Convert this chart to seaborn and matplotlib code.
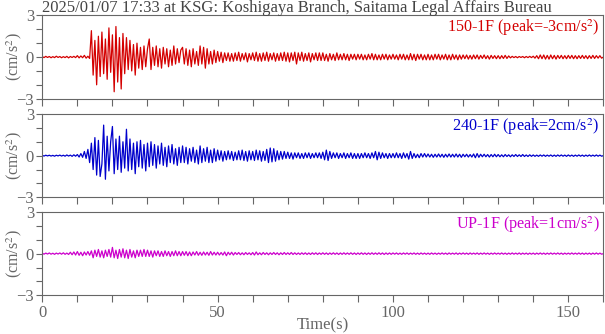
import numpy as np
import pandas as pd
import matplotlib
matplotlib.use("Agg")
import matplotlib.pyplot as plt
import seaborn as sns
from matplotlib.ticker import MultipleLocator, FixedLocator

# ---------------- data (acceleration, cm/s^2, sampled every 0.5 s from 0 to 160 s) ----------------
title_text = "2025/01/07 17:33 at KSG: Koshigaya Branch, Saitama Legal Affairs Bureau"
channel_labels = ["150-1F (peak=-3cm/s$^2$)", "240-1F (peak=2cm/s$^2$)", "UP-1F (peak=1cm/s$^2$)"]
x_ticks = [0, 50, 100, 150]
y_ticks = [-3, 0, 3]

acc_150 = (
    [0.03,-0.04,0.05,-0.03,0.04,-0.05,0.03,-0.04,0.06,-0.03,0.04,-0.05,0.03,-0.04,0.05,-0.06,0.04,-0.03,0.05,-0.04] +
    [0.1,-0.06,0.08,-0.05,0.12,-0.08,0.06,-0.1,1.9,-1.3,1.2,-2.0,1.5,-1.4,1.8,-1.2,1.3,-1.6,2.1,-1.1] +
    [1.6,-2.5,2.2,-1.8,1.4,-2.3,1.7,-1.2,1.4,-0.9,1.2,-1.0,0.9,-1.3,1.0,-0.8,0.7,-0.9,0.8,-0.7] +
    [0.6,1.3,-0.9,0.7,-0.6,0.8,-0.7,0.6,-0.8,0.7,-0.5,0.6,-0.7,0.5,-0.6,0.8,-0.5,0.6,-0.4,0.5] +
    [0.7,-0.5,0.6,-0.6,0.5,-0.7,0.6,-0.5,0.4,-0.6,0.8,-0.5,0.7,-0.8,0.6,-0.5,0.4,-0.5,0.5,-0.4] +
    [0.4,-0.3,0.35,-0.4,0.3,-0.25,0.3,-0.3,0.25,-0.3,0.3,-0.25,0.35,-0.3,0.25,-0.2,0.3,-0.35,0.25,-0.2] +
    [0.3,-0.25,0.35,-0.3,0.25,-0.3,0.3,-0.25,0.35,-0.3,0.25,-0.2,0.3,-0.3,0.25,-0.25,0.3,-0.25,0.35,-0.3] +
    [0.3,-0.35,0.3,-0.25,0.35,-0.5,0.3,-0.25,0.35,-0.3,0.25,-0.25,0.3,-0.35,0.25,-0.2,0.3,-0.25,0.3,-0.25] +
    [0.3,-0.25,0.2,-0.3,0.25,-0.2,0.2,-0.25,0.3,-0.2,0.2,-0.2,0.25,-0.2,0.2,-0.25,0.2,-0.15,0.2,-0.2] +
    [0.2,-0.15,0.2,-0.2,0.15,-0.2,0.2,-0.15,0.25,-0.2,0.2,-0.2,0.15,-0.2,0.2,-0.15,0.2,-0.2,0.15,-0.15] +
    [0.2,-0.15,0.15,-0.2,0.2,-0.15,0.2,-0.2,0.15,-0.2,0.25,-0.2,0.2,-0.25,0.2,-0.15,0.2,-0.2,0.15,-0.2] +
    [0.2,-0.2,0.15,-0.2,0.2,-0.15,0.2,-0.2,0.15,-0.15,0.2,-0.2,0.15,-0.2,0.2,-0.15,0.15,-0.2,0.15,-0.15] +
    [0.15,-0.12,0.15,-0.15,0.12,-0.15,0.15,-0.12,0.15,-0.15,0.12,-0.1,0.15,-0.12,0.1,-0.15,0.12,-0.1,0.1,-0.12] +
    [0.1,-0.12,0.1,-0.1,0.12,-0.1,0.08,-0.06,0.05,-0.04,0.04,-0.05,0.04,-0.03,0.04,-0.05,0.04,-0.04,0.05,-0.04] +
    [0.06,-0.08,0.1,-0.12,0.15,-0.12,0.15,-0.15,0.12,-0.15,0.15,-0.12,0.12,-0.15,0.12,-0.1,0.12,-0.12,0.1,-0.12] +
    [0.12,-0.1,0.12,-0.12,0.1,-0.12,0.1,-0.1,0.12,-0.1,0.1,-0.12,0.1,-0.1,0.12,-0.1,0.1,-0.08,0.1,-0.08,0.0]
)

acc_240 = (
    [0.02,-0.03,0.03,-0.02,0.03,-0.03,0.02,-0.04,0.03,-0.02,0.04,-0.03,0.03,-0.04,0.05,-0.03,0.04,-0.05,0.06,-0.04] +
    [0.08,-0.1,0.15,-0.12,0.3,-0.2,0.45,-0.5,0.9,-1.0,1.3,-1.4,1.1,-1.5,-0.6,2.2,-1.7,1.4,-1.1,1.0] +
    [2.1,-1.3,1.2,-1.0,1.4,-1.2,1.0,-0.9,1.9,-1.1,1.2,-1.0,0.9,-1.3,1.0,-0.8,1.1,-0.9,0.8,-1.1] +
    [0.9,-0.8,1.0,-0.7,0.8,-0.9,0.7,-0.6,0.9,-0.7,0.6,-0.8,0.7,-0.5,0.8,-0.6,0.5,-0.7,0.6,-0.5] +
    [0.7,-0.5,0.6,-0.6,0.5,-0.4,0.6,-0.5,0.4,-0.6,0.7,-0.5,0.5,-0.4,0.6,-0.5,0.4,-0.5,0.5,-0.4] +
    [0.4,-0.3,0.35,-0.4,0.3,-0.3,0.35,-0.25,0.3,-0.35,0.25,-0.3,0.35,-0.3,0.4,-0.35,0.3,-0.4,0.35,-0.3] +
    [0.3,-0.35,0.4,-0.3,0.35,-0.4,0.3,-0.35,0.45,-0.5,0.55,-0.45,0.5,-0.4,0.35,-0.3,0.3,-0.25,0.3,-0.2] +
    [0.25,-0.2,0.2,-0.25,0.2,-0.15,0.2,-0.2,0.15,-0.2,0.2,-0.15,0.2,-0.2,0.15,-0.15,0.2,-0.15,0.2,-0.2] +
    [0.25,-0.3,0.4,-0.35,0.3,-0.2,0.2,-0.15,0.2,-0.2,0.15,-0.15,0.2,-0.2,0.15,-0.15,0.2,-0.2,0.15,-0.2] +
    [0.15,-0.2,0.15,-0.15,0.2,-0.15,0.15,-0.2,0.2,-0.15,0.3,-0.3,0.25,-0.2,0.2,-0.15,0.15,-0.2,0.15,-0.15] +
    [0.15,-0.15,0.2,-0.15,0.15,-0.2,0.2,-0.15,0.15,-0.25,0.3,-0.2,0.15,-0.15,0.1,-0.15,0.15,-0.1,0.15,-0.1] +
    [0.12,-0.1,0.1,-0.12,0.1,-0.1,0.12,-0.1,0.1,-0.12,0.1,-0.1,0.12,-0.1,0.1,-0.1,0.12,-0.1,0.1,-0.12] +
    [0.1,-0.08,0.1,-0.1,0.08,-0.1,0.12,-0.15,0.15,-0.12,0.1,-0.08,0.1,-0.08,0.08,-0.1,0.08,-0.08,0.1,-0.08] +
    [0.08,-0.08,0.06,-0.08,0.08,-0.06,0.06,-0.08,0.06,-0.06,0.08,-0.06,0.06,-0.06,0.08,-0.06,0.05,-0.06,0.06,-0.05] +
    [0.05,-0.05,0.04,-0.05,0.05,-0.04,0.05,-0.05,0.04,-0.04,0.05,-0.05,0.04,-0.05,0.05,-0.04,0.05,-0.04,0.04,-0.05] +
    [0.05,-0.04,0.04,-0.05,0.04,-0.04,0.05,-0.04,0.04,-0.05,0.04,-0.04,0.05,-0.04,0.04,-0.04,0.05,-0.04,0.04,-0.04,0.0]
)

acc_up = (
    [0.03,-0.04,0.04,-0.03,0.05,-0.04,0.03,-0.05,0.04,-0.03,0.05,-0.04,0.06,-0.05,0.04,-0.06,0.1,-0.08,0.12,-0.1] +
    [0.15,-0.12,0.1,-0.15,0.12,-0.1,0.15,-0.12,0.2,-0.3,0.25,-0.2,0.3,-0.25,0.2,-0.3,0.25,-0.2,0.3,-0.25] +
    [0.45,-0.3,0.25,-0.35,0.3,-0.25,0.35,-0.3,0.25,-0.35,0.3,-0.25,0.2,-0.3,0.25,-0.2,0.25,-0.2,0.3,-0.2] +
    [0.25,-0.2,0.2,-0.25,0.2,-0.15,0.2,-0.2,0.15,-0.2,0.2,-0.15,0.15,-0.2,0.15,-0.15,0.2,-0.15,0.15,-0.15] +
    [0.15,-0.12,0.15,-0.15,0.12,-0.15,0.12,-0.1,0.15,-0.12,0.1,-0.12,0.12,-0.1,0.1,-0.12,0.15,-0.1,0.1,-0.1] +
    [0.1,-0.1,0.08,-0.1,0.12,-0.15,0.1,-0.08,0.1,-0.1,0.08,-0.06,0.08,-0.08,0.06,-0.08,0.08,-0.06,0.06,-0.08] +
    [0.08,-0.1,0.12,-0.08,0.06,-0.08,0.08,-0.06,0.06,-0.08,0.06,-0.06,0.08,-0.06,0.06,-0.08,0.06,-0.06,0.08,-0.06] +
    [0.06,-0.06,0.08,-0.06,0.06,-0.06,0.05,-0.06,0.06,-0.05,0.06,-0.06,0.05,-0.06,0.06,-0.05,0.06,-0.06,0.05,-0.05] +
    [0.06,-0.05,0.05,-0.06,0.05,-0.05,0.06,-0.05,0.05,-0.06,0.05,-0.05,0.06,-0.05,0.05,-0.05,0.06,-0.05,0.05,-0.06] +
    [0.05,-0.05,0.06,-0.05,0.05,-0.06,0.05,-0.05,0.06,-0.05,0.05,-0.05,0.06,-0.05,0.05,-0.06,0.05,-0.05,0.05,-0.05] +
    [0.05,-0.04,0.05,-0.05,0.04,-0.05,0.05,-0.04,0.05,-0.05,0.04,-0.04,0.05,-0.05,0.04,-0.05,0.05,-0.04,0.04,-0.05] +
    [0.04,-0.05,0.05,-0.04,0.04,-0.05,0.04,-0.04,0.05,-0.04,0.04,-0.05,0.05,-0.04,0.04,-0.04,0.05,-0.05,0.04,-0.04] +
    [0.05,-0.04,0.04,-0.05,0.05,-0.04,0.04,-0.04,0.05,-0.05,0.04,-0.04,0.05,-0.04,0.04,-0.05,0.04,-0.04,0.05,-0.04] +
    [0.04,-0.04,0.05,-0.04,0.04,-0.05,0.04,-0.04,0.05,-0.04,0.04,-0.04,0.05,-0.05,0.04,-0.04,0.04,-0.05,0.04,-0.04] +
    [0.04,-0.05,0.04,-0.04,0.05,-0.04,0.04,-0.05,0.04,-0.04,0.05,-0.04,0.04,-0.04,0.05,-0.04,0.04,-0.05,0.04,-0.04] +
    [0.04,-0.04,0.05,-0.04,0.04,-0.04,0.05,-0.04,0.04,-0.05,0.04,-0.04,0.04,-0.05,0.04,-0.04,0.05,-0.04,0.04,-0.04,0.0]
)

series = [acc_150, acc_240, acc_up]
colors = ["#d40000", "#0000cc", "#cc00cc"]

# ---------------- styling ----------------
sns.set_theme(style="ticks")
plt.rcParams["font.family"] = ["Liberation Serif", "DejaVu Serif"]
plt.rcParams["mathtext.fontset"] = "stix"
gray = "#666666"

fig = plt.figure(figsize=(6.05, 3.34), dpi=100)
left, width, height = 0.0699, 0.9274, 0.2494
bottoms = [0.7045, 0.4093, 0.1159]

for i, (vals, col, lab) in enumerate(zip(series, colors, channel_labels)):
    ax = fig.add_axes([left, bottoms[i], width, height])
    df = pd.DataFrame({"t": np.linspace(0, 160, len(vals)), "acc": vals})
    sns.lineplot(data=df, x="t", y="acc", ax=ax, color=col, linewidth=0.9,
                 estimator=None, sort=False)
    ax.set_xlim(0, 160)
    ax.set_ylim(-3, 3)
    ax.xaxis.set_major_locator(FixedLocator(x_ticks))
    ax.xaxis.set_minor_locator(MultipleLocator(10))
    ax.yaxis.set_major_locator(FixedLocator(y_ticks))
    ax.yaxis.set_minor_locator(MultipleLocator(1))
    ax.tick_params(which="both", direction="out", colors=gray, labelcolor=gray,
                   labelsize=12, width=0.8, pad=2)
    ax.tick_params(axis="x", which="both", length=5)
    ax.tick_params(axis="y", which="both", length=4)
    for sp in ax.spines.values():
        sp.set_visible(True)
        sp.set_color(gray)
        sp.set_linewidth(0.8)
    ax.set_ylabel("(cm/s$^2$)", color=gray, fontsize=11.5)
    ax.yaxis.set_label_coords(-0.033, 0.5)
    ax.set_xlabel("")
    if i < 2:
        ax.tick_params(axis="x", labelbottom=False)
    else:
        ax.set_xlabel("Time(s)", color=gray, fontsize=12)
        ax.xaxis.set_label_coords(0.5, -0.27)
    ax.text(0.993, 0.97, lab, transform=ax.transAxes, ha="right", va="top",
            color=col, fontsize=11.6)

fig.text(0.0699, 1.0, title_text, ha="left", va="top", color="#444444", fontsize=12)

fig.savefig("out.png", dpi=100)
